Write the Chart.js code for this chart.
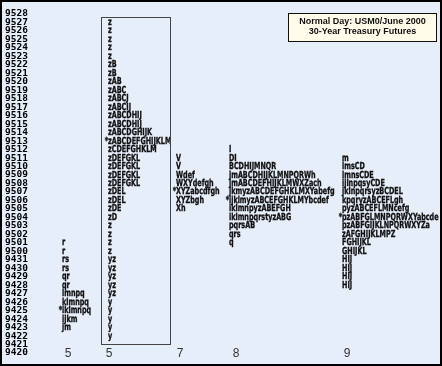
<!DOCTYPE html>
<html>
<head>
<meta charset="utf-8">
<script src="https://cdn.jsdelivr.net/npm/chart.js@4.4.1/dist/chart.umd.min.js"></script>
<style>
  html, body { margin: 0; padding: 0; background: #e6eefa; }
  canvas { display: block; }
</style>
</head>
<body>
<canvas id="chart" width="442" height="366"></canvas>
<script>
// price ticks (32nds), top to bottom
const priceLabels = ['9528','9527','9526','9525','9524','9523','9522','9521','9520','9519',
  '9518','9517','9516','9515','9514','9513','9512','9511','9510','9509','9508','9507',
  '9506','9505','9504','9503','9502','9501','9500','9431','9430','9429','9428','9427',
  '9426','9425','9424','9423','9422','9421','9420'];

const columnLabels = ['5', '5', '7', '8', '9'];

// each column: first price row + letters per row going down
const col1Start = '9501';
const col1Letters = ['r','r','rs','rs','qr','qr','lmnpq','klmnpq','*iklmnpq','ijkm','jm'];

const col2Start = '9527';
const col2Letters = ['z','z','z','z','z','zB','zB','zAB','zABC','zABCJ','zABCIJ','zABCDHIJ',
  'zABCDHIJ','zABCDGHIJK','*zABCDEFGHIJKLM','zCDEFGHKLM','zDEFGKL','zDEFGKL','zDEFGKL',
  'zDEFGKL','zDEL','zDEL','zDE','zD','z','z','z','z','yz','yz','yz','yz','yz',
  'y','y','y','y','y'];

const col3Start = '9511';
const col3Letters = ['V','V','Wdef','WXYdefgh','*XYZabcdfgh','XYZbgh','Xh'];

const col4Start = '9512';
const col4Letters = ['I','DI','BCDHIJMNQR','jmABCDHIJKLMNPQRWh','jmABCDEFHIJKLMWXZach',
  'jkmyzABCDEFGHKLMXYabefg','*ijklmyzABCEFGHKLMYbcdef','iklmnpyzABEFGH',
  'iklmnpqrstyzABG','pqrsAB','qrs','q'];

const col5Start = '9511';
const col5Letters = ['m','lmsCD','lmnsCDE','ijlnpqsyCDE','jklnpqrsyzBCDEL','kpqryzABCEFLgh',
  'pyzABCEFLMNcefg','*pzABFGLMNPQRWXYabcde','pzABFGIJKLNPQRWXYZa','zAFGHIJKLMPZ',
  'FGHIJKL','GHIJKL','HIJ','HIJ','HIJ','HIJ'];

// range box around the second column
const boxTop = '9527';
const boxBottom = '9422';

const titleLines = ['Normal Day: USM0/June 2000', '30-Year Treasury Futures'];

// layout (pixels)
const colX = [62, 108, 176, 229, 342];
const tickX = [68, 109, 180, 236, 347];

const starts = [col1Start, col2Start, col3Start, col4Start, col5Start];
const letters = [col1Letters, col2Letters, col3Letters, col4Letters, col5Letters];

const datasets = letters.map((rows, c) => {
  const s = priceLabels.indexOf(starts[c]);
  return {
    label: 'col' + c,
    data: rows.map((t, i) => ({ x: colX[c], y: priceLabels[s + i], t: t })),
    pointRadius: 0,
    pointHoverRadius: 0,
    showLine: false
  };
});

const tpoText = {
  id: 'tpoText',
  beforeDraw(chart) {
    const ctx = chart.ctx;
    ctx.save();
    ctx.fillStyle = '#e6eefa';
    ctx.fillRect(0, 0, chart.width, chart.height);
    ctx.restore();
  },
  afterDatasetsDraw(chart) {
    const ctx = chart.ctx;
    ctx.save();
    ctx.font = 'bold 7.15px "DejaVu Sans Condensed"';
    ctx.fillStyle = '#111';
    ctx.strokeStyle = '#111';
    ctx.lineWidth = 0.25;
    ctx.textBaseline = 'middle';
    const starW = ctx.measureText('*').width;
    chart.data.datasets.forEach((ds, di) => {
      chart.getDatasetMeta(di).data.forEach((pt, i) => {
        const t = ds.data[i].t;
        let x = pt.x;
        if (t[0] === '*') x -= starW;
        ctx.save();
        ctx.translate(x, pt.y);
        ctx.scale(1, 1.35);
        ctx.fillText(t, 0, 0);
        ctx.strokeText(t, 0, 0);
        ctx.restore();
      });
    });

    // box
    const xs = chart.scales.x, ys = chart.scales.y;
    const step = ys.getPixelForValue(1) - ys.getPixelForValue(0);
    const top = ys.getPixelForValue(priceLabels.indexOf(boxTop)) - step * 0.6;
    const bottom = ys.getPixelForValue(priceLabels.indexOf(boxBottom)) + step * 0.95;
    const left = xs.getPixelForValue(colX[1]) - 7;
    const right = xs.getPixelForValue(colX[1]) + 62;
    ctx.strokeStyle = '#444';
    ctx.lineWidth = 1;
    ctx.strokeRect(Math.round(left) + 0.5, Math.round(top) + 0.5,
      Math.round(right - left), Math.round(bottom - top));
    ctx.restore();
  },
  afterDraw(chart) {
    const ctx = chart.ctx;
    ctx.save();
    // title box
    ctx.fillStyle = '#fffcea';
    ctx.fillRect(288, 13, 149, 29);
    ctx.strokeStyle = '#111';
    ctx.lineWidth = 1;
    ctx.strokeRect(288.5, 13.5, 148, 28);
    ctx.fillStyle = '#111';
    ctx.font = 'bold 9px "Liberation Sans"';
    ctx.textAlign = 'center';
    ctx.textBaseline = 'middle';
    ctx.fillText(titleLines[0], 362.5, 21.5);
    ctx.fillText(titleLines[1], 362.5, 32);
    // frame
    ctx.strokeStyle = '#000';
    ctx.lineWidth = 2;
    ctx.strokeRect(1, 1, chart.width - 2, chart.height - 2);
    ctx.restore();
  }
};

const ctx = document.getElementById('chart').getContext('2d');
const chart = new Chart(ctx, {
  type: 'scatter',
  data: { datasets: datasets },
  options: {
    responsive: false,
    animation: false,
    events: [],
    layout: { padding: { top: 14, left: 0, right: 0, bottom: 0 } },
    plugins: { legend: { display: false }, tooltip: { enabled: false } },
    scales: {
      x: {
        type: 'linear',
        position: 'bottom',
        min: 34,
        max: 442,
        grid: { display: false, drawTicks: false },
        border: { display: false },
        afterFit(s) { s.height = 13; },
        afterBuildTicks(s) { s.ticks = tickX.map(v => ({ value: v })); },
        ticks: {
          autoSkip: false,
          maxRotation: 0,
          mirror: true,
          padding: -7,
          color: '#333',
          font: { family: '"Liberation Sans"', size: 12, lineHeight: 1 },
          callback: (v, i) => columnLabels[i]
        }
      },
      y: {
        type: 'category',
        labels: priceLabels,
        offset: false,
        grid: { display: false, drawTicks: false },
        border: { display: false },
        afterFit(s) { s.width = 34; },
        ticks: {
          autoSkip: false,
          padding: 6,
          color: '#000',
          font: { family: '"DejaVu Sans Mono"', size: 9.5, weight: 'bold' }
        }
      }
    }
  },
  plugins: [tpoText]
});
</script>
</body>
</html>
